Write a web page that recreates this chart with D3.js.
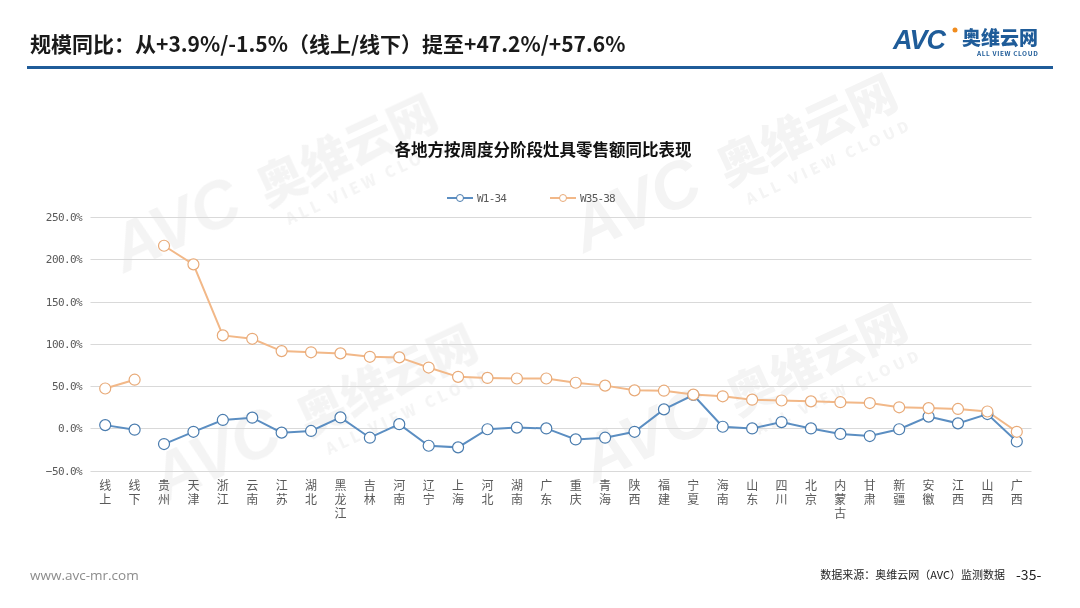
<!DOCTYPE html>
<html><head><meta charset="utf-8">
<script src="https://cdn.jsdelivr.net/npm/d3@7"></script>
<style>
html,body{margin:0;padding:0;background:#fff;}
svg{display:block;font-family:"Noto Sans CJK SC","Noto Sans",sans-serif;}
</style></head>
<body>
<svg id="c" width="1080" height="608"></svg>
<script>
const categories = ["线上","线下","贵州","天津","浙江","云南","江苏","湖北","黑龙江","吉林","河南","辽宁","上海","河北","湖南","广东","重庆","青海","陕西","福建","宁夏","海南","山东","四川","北京","内蒙古","甘肃","新疆","安徽","江西","山西","广西"];
const seriesW1_34 = [3.9,-1.5,-18.5,-4,10,12.7,-5,-3,13,-11,5,-20.5,-22.4,-1,1,0,-13,-11,-4,22.5,39.5,2,0,7.5,0,-6.5,-9,-1,14,6,17,-15.5];
const seriesW35_38 = [47.2,57.6,216,194,110,106,91.4,90,88.7,84.7,84,72,61,59.7,59,59,54,50.6,45,44.6,40,38,34,33,32,31,30,25,24,23,20,-4];
const seriesNames = ["W1-34","W35-38"];
const yTicks = [-50,0,50,100,150,200,250];
const breakAfter = 1; // line is split between 线下 and 贵州

const svg = d3.select("#c");

// watermarks
const wm = svg.append("g").attr("fill","#000").attr("opacity",0.045).attr("font-weight",900);
[[260,210],[720,190],[300,440],[730,420]].forEach(([x,y])=>{
  const g = wm.append("g").attr("transform",`translate(${x},${y}) rotate(-25)`);
  g.append("text").attr("x",-150).attr("y",0).attr("font-size",66).attr("font-family","Liberation Sans, Arial").attr("font-style","italic").text("AVC");
  g.append("text").attr("x",8).attr("y",0).attr("font-size",48).text("奥维云网");
  g.append("text").attr("x",20).attr("y",26).attr("font-size",15).attr("letter-spacing",4).text("ALL VIEW CLOUD");
});

// header
svg.append("text").attr("x",30).attr("y",52).attr("font-size",21).attr("font-weight",700).attr("fill","#1a1a1a")
  .text("规模同比：从+3.9%/-1.5%（线上/线下）提至+47.2%/+57.6%");
svg.append("rect").attr("x",27).attr("y",66).attr("width",1026).attr("height",3).attr("fill","#1f5c99");
// logo
const lg = svg.append("g");
lg.append("text").attr("x",893).attr("y",49).attr("font-size",27).attr("font-weight",900).attr("font-style","italic")
  .attr("font-family","Liberation Sans, Arial").attr("fill","#1f5c99").attr("letter-spacing",-1).text("AVC");
lg.append("circle").attr("cx",955).attr("cy",30).attr("r",2.5).attr("fill","#f08c1e");
lg.append("text").attr("x",962).attr("y",45).attr("font-size",19).attr("font-weight",900).attr("fill","#1f5c99").text("奥维云网");
lg.append("text").attr("x",977).attr("y",56).attr("font-size",6.5).attr("font-weight",700).attr("fill","#1f5c99").attr("letter-spacing",0.6).text("ALL VIEW CLOUD");

// chart title
svg.append("text").attr("x",543).attr("y",156).attr("text-anchor","middle").attr("font-size",16.5).attr("font-weight",700).attr("fill","#111")
  .text("各地方按周度分阶段灶具零售额同比表现");

// scales
const x = d3.scaleBand().domain(categories).range([90.5,1031.5]);
const y = d3.scaleLinear().domain([-50,250]).range([470.7,217]);
const cx = d => x(d) + x.bandwidth()/2;

// grid
svg.append("g").selectAll("line").data(yTicks).join("line")
  .attr("x1",90.5).attr("x2",1031.5).attr("y1",d=>Math.round(y(d))+0.5).attr("y2",d=>Math.round(y(d))+0.5)
  .attr("stroke","#d9d9d9").attr("stroke-width",1);
// y labels
svg.append("g").selectAll("text").data(yTicks).join("text")
  .attr("x",82).attr("y",d=>y(d)+4).attr("text-anchor","end").attr("font-size",11).attr("fill","#595959")
  .attr("font-family","DejaVu Sans Mono, Liberation Mono, monospace").attr("letter-spacing",-0.6)
  .text(d=>d3.format(".1f")(d)+"%");
// x labels (vertical text)
svg.append("g").selectAll("text").data(categories).join("text")
  .attr("x",d=>cx(d)).attr("y",479)
  .style("writing-mode","vertical-rl").style("text-orientation","upright")
  .attr("font-size",12).attr("letter-spacing",2).attr("fill","#595959")
  .text(d=>d);

const colors = ["#5b8ec2","#f2b888"];
const series = [seriesW1_34, seriesW35_38];
const line = d3.line().x(d=>cx(d.c)).y(d=>y(d.v));
series.forEach((vals,si)=>{
  const pts = vals.map((v,i)=>({c:categories[i],v}));
  const segs = [pts.slice(0,breakAfter+1), pts.slice(breakAfter+1)];
  segs.forEach(s=>svg.append("path").attr("d",line(s)).attr("fill","none").attr("stroke",colors[si]).attr("stroke-width",2));
});
series.forEach((vals,si)=>{
  svg.append("g").selectAll("circle").data(vals).join("circle")
    .attr("cx",(d,i)=>cx(categories[i])).attr("cy",d=>y(d)).attr("r",5.5)
    .attr("fill","#fff").attr("stroke",si===0?"#4a7cae":"#e8aa78").attr("stroke-width",1.2);
});

// legend
const leg = svg.append("g");
[[447,0],[550,1]].forEach(([lx,si])=>{
  leg.append("line").attr("x1",lx).attr("x2",lx+26).attr("y1",198).attr("y2",198).attr("stroke",colors[si]).attr("stroke-width",2);
  leg.append("circle").attr("cx",lx+13).attr("cy",198).attr("r",3.5).attr("fill","#fff").attr("stroke",si===0?"#4a7cae":"#e8aa78");
  leg.append("text").attr("x",lx+30).attr("y",202).attr("font-size",11).attr("fill","#595959")
    .attr("font-family","DejaVu Sans Mono, Liberation Mono, monospace").attr("letter-spacing",-0.8).text(seriesNames[si]);
});

// footer
svg.append("text").attr("x",30).attr("y",580).attr("font-size",13.5).attr("fill","#8c8c8c").attr("font-family","Open Sans, Liberation Sans, sans-serif").text("www.avc-mr.com");
svg.append("text").attr("x",1005).attr("y",579).attr("text-anchor","end").attr("font-size",11).attr("fill","#222").text("数据来源：奥维云网（AVC）监测数据");
svg.append("text").attr("x",1016).attr("y",580).attr("font-size",14).attr("fill","#222").text("-35-");
</script></body></html>
